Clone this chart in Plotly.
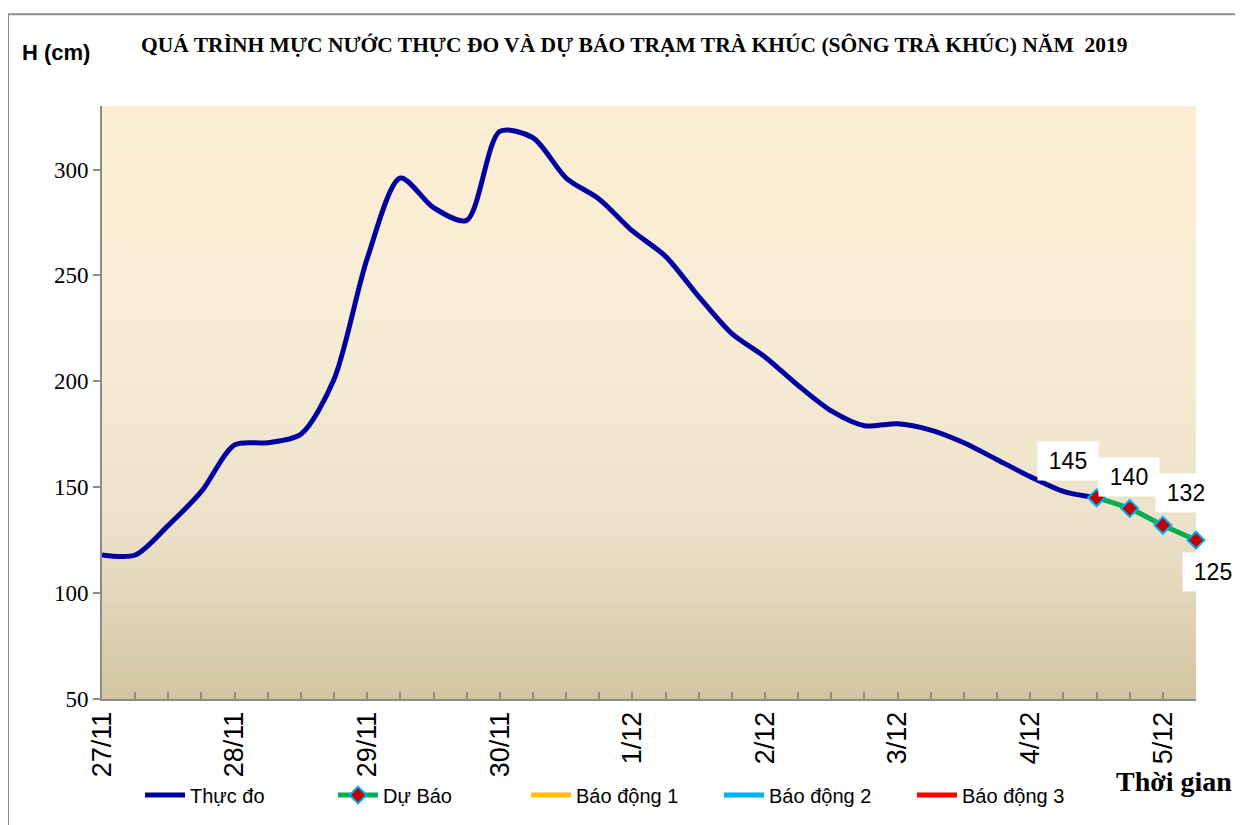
import plotly.graph_objects as go

# ---------------- data ----------------
# 6-hourly steps from 27/11 to 5/12 (index positions on the category axis)
day_labels = ["27/11", "28/11", "29/11", "30/11", "1/12", "2/12", "3/12", "4/12", "5/12"]
steps_per_day = 4
n_steps = 34

observed = [118, 118, 132, 148, 170, 171, 175, 201, 258, 296, 282, 276, 318, 315,
            296, 286, 271, 259, 240, 222.5, 211.5, 198, 186, 179, 180, 177, 171,
            163, 155, 148, 145]
forecast = [145, 140, 132, 125]
forecast_start = 30

series_names = ["Thực đo", "Dự Báo", "Báo động 1", "Báo động 2", "Báo động 3"]
series_colors = ["#0000A0", "#00B050", "#FFC000", "#00B0F0", "#FF0000"]

# data-label offsets (pixels) for forecast values
label_shift = [(-29, 37), (-1, 31), (23, 32), (17, -32)]

# ---------------- figure ----------------
x_obs = list(range(len(observed)))
x_fc = list(range(forecast_start, forecast_start + len(forecast)))

fig = go.Figure()

fig.add_trace(go.Scatter(
    x=x_obs, y=observed, mode="lines", name=series_names[0],
    line=dict(color=series_colors[0], width=5, shape="spline", smoothing=0.8),
))
fig.add_trace(go.Scatter(
    x=x_fc, y=forecast, mode="lines+markers", name=series_names[1],
    line=dict(color=series_colors[1], width=5, shape="spline", smoothing=0.8),
    marker=dict(symbol="diamond", size=13, color="#C00000",
                line=dict(color="#00B0F0", width=2)),
    cliponaxis=False,
))
for name, col in zip(series_names[2:], series_colors[2:]):
    fig.add_trace(go.Scatter(
        x=[None], y=[None], mode="lines", name=name,
        line=dict(color=col, width=5),
    ))

# gradient plot background via thin bands
stops = [(0.0, (253, 238, 211)), (0.45, (245, 235, 212)), (0.72, (235, 225, 200)),
         (1.0, (211, 197, 160))]


def col_at(t):
    for (t0, c0), (t1, c1) in zip(stops[:-1], stops[1:]):
        if t0 <= t <= t1:
            f = (t - t0) / (t1 - t0)
            return tuple(round(a + (b - a) * f) for a, b in zip(c0, c1))
    return stops[-1][1]


shapes = []
nb = 120
for k in range(nb):
    t = (k + 0.5) / nb
    c = col_at(t)
    shapes.append(dict(
        type="rect", xref="x domain", yref="y domain",
        x0=0, x1=1, y0=1 - (k + 1) / nb - 0.001, y1=1 - k / nb,
        fillcolor="rgb(%d,%d,%d)" % c, line=dict(width=0), layer="below",
    ))

# page body has an 8px margin; lay out in reference pixels and shift
OFF = 8
W, H = 1243 - OFF, 825 - OFF
L, R, T, B = 102 - OFF, 1196 - OFF, 106 - OFF, 700 - OFF


def px2x(p):
    return (p - OFF - L) / (R - L)


def px2y(p):
    return (B - (p - OFF)) / (B - T)


shapes.append(dict(
    type="rect", xref="paper", yref="paper",
    x0=px2x(8), x1=px2x(1270), y0=px2y(850), y1=px2y(14),
    line=dict(color="#8C8C8C", width=2), fillcolor="rgba(0,0,0,0)",
))

annotations = []
for xi, v, (dx, dy) in zip(x_fc, forecast, label_shift):
    annotations.append(dict(
        x=xi, y=v, xref="x", yref="y", text=str(v), showarrow=False,
        xshift=dx, yshift=dy, bgcolor="white", borderpad=7,
        width=46, height=24,
        font=dict(family="Liberation Sans, Arial", size=23, color="black"),
    ))

annotations.append(dict(
    xref="paper", yref="paper", x=px2x(139), y=px2y(45), xanchor="left",
    yanchor="middle", showarrow=False,
    text="<b>QUÁ TRÌNH MỰC NƯỚC THỰC ĐO VÀ DỰ BÁO TRẠM TRÀ KHÚC (SÔNG TRÀ KHÚC) NĂM  2019</b>",
    font=dict(family="Liberation Serif, Times New Roman", size=21.5, color="black"),
))
annotations.append(dict(
    xref="paper", yref="paper", x=px2x(20), y=px2y(52), xanchor="left",
    yanchor="middle", showarrow=False, text="<b>H (cm)</b>",
    font=dict(family="Liberation Sans, Arial", size=22, color="black"),
))
annotations.append(dict(
    xref="paper", yref="paper", x=px2x(1234), y=px2y(783), xanchor="right",
    yanchor="middle", showarrow=False, text="<b>Thời gian</b>",
    font=dict(family="Liberation Serif, Times New Roman", size=28, color="black"),
))

tickvals = list(range(n_steps))
ticktext = [day_labels[i // steps_per_day] if i % steps_per_day == 0 else ""
            for i in tickvals]

fig.update_layout(
    width=W, height=H,
    margin=dict(l=L, r=W - R, t=T, b=H - B),
    paper_bgcolor="white", plot_bgcolor="rgba(0,0,0,0)",
    shapes=shapes, annotations=annotations,
    showlegend=True,
    legend=dict(
        orientation="h", x=px2x(140), y=px2y(795), xanchor="left", yanchor="middle",
        font=dict(family="Liberation Sans, Arial", size=20, color="black"),
        bgcolor="rgba(0,0,0,0)", itemwidth=40, entrywidth=138,
    ),
    xaxis=dict(
        range=[0, n_steps - 1], tickmode="array", tickvals=tickvals, ticktext=ticktext,
        tickangle=-90, ticks="inside", ticklen=7, tickwidth=2, tickcolor="#8C8C8C",
        showline=True, linecolor="#8C8C8C", linewidth=2, showgrid=False, zeroline=False,
        tickfont=dict(family="Liberation Sans, Arial", size=27, color="black"),
    ),
    yaxis=dict(
        range=[50, 330], tickmode="array", tickvals=[50, 100, 150, 200, 250, 300],
        ticks="outside", ticklen=7, tickwidth=2, tickcolor="#8C8C8C",
        showline=True, linecolor="#8C8C8C", linewidth=2, showgrid=False, zeroline=False,
        tickfont=dict(family="Liberation Serif, Times New Roman", size=23, color="black"),
    ),
)

fig.write_html("out.html")
